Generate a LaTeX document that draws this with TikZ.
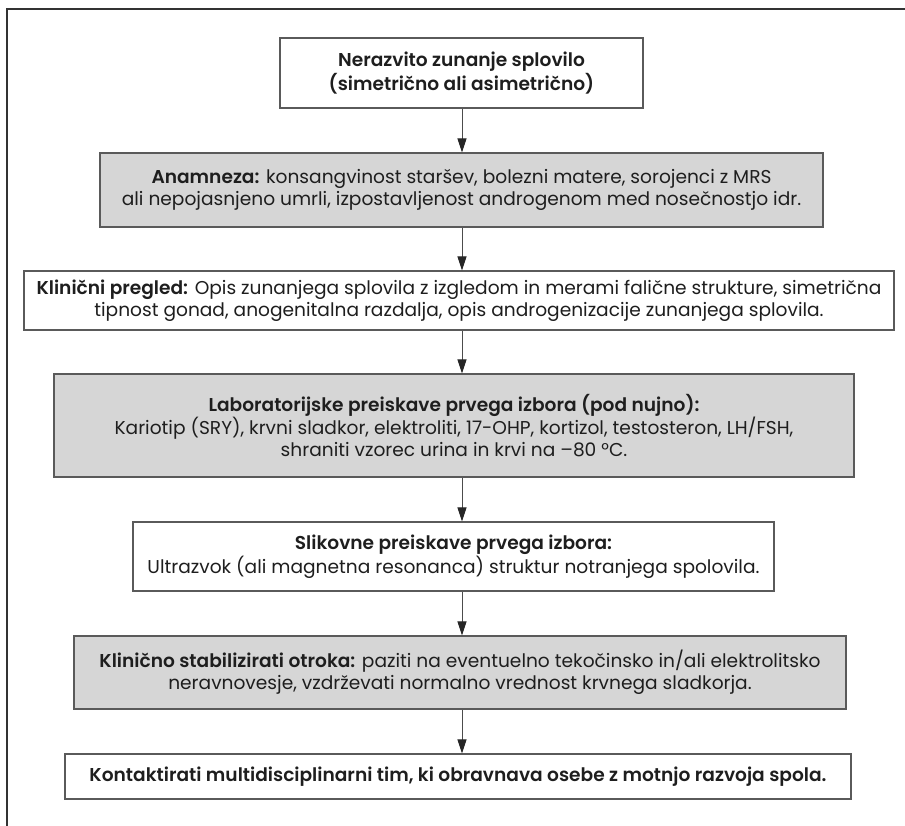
\documentclass[tikz,border=0pt]{standalone}
\usepackage{fontspec}
\setmainfont{Poppins}[BoldFont={Poppins SemiBold}]
\usetikzlibrary{arrows.meta,shadows}
\definecolor{boxgray}{HTML}{D6D6D6}
\definecolor{edge}{HTML}{5A5A5A}
\definecolor{ink}{HTML}{1E1E1E}
\tikzset{
  flowbox/.style={draw=edge, line width=1.1pt, inner sep=0pt, align=center, text=ink,
    font=\fontsize{18.6}{22}\selectfont,
    drop shadow={shadow xshift=1.3pt, shadow yshift=-1.3pt, fill=black!75, opacity=1}},
  whitebox/.style={flowbox, fill=white},
  graybox/.style={flowbox, fill=boxgray},
  arr/.style={draw=black!70, line width=0.8pt, -{Triangle[length=14pt,width=9pt,fill=black!85,color=black!85]}},
  frameline/.style={draw=black!80, line width=1.8pt}
}
\begin{document}
\begin{tikzpicture}[x=1pt,y=-1pt]
\useasboundingbox (0,0) rectangle (905,826);
\draw[frameline] (7,826) -- (7,9) -- (905,9);
\coordinate (ax) at (462,0);
\node[whitebox, minimum width=363pt, minimum height=70pt] (b1) at (461.5,73)
  {\bfseries Nerazvito zunanje splovilo\\\bfseries (simetrično ali asimetrično)};
\node[graybox, minimum width=723pt, minimum height=74pt] (b2) at (461.5,190)
  {\textbf{Anamneza:} konsangvinost staršev, bolezni matere, sorojenci z MRS\\ali nepojasnjeno umrli, izpostavljenost androgenom med nosečnostjo idr.};
\node[whitebox, minimum width=870pt, minimum height=59pt] (b3) at (459,300.5)
  {\textbf{Klinični pregled:} Opis zunanjega splovila z izgledom in merami falične strukture, simetrična\\tipnost gonad, anogenitalna razdalja, opis androgenizacije zunanjega splovila.};
\node[graybox, minimum width=800pt, minimum height=103pt] (b4) at (454,425.5)
  {\textbf{Laboratorijske preiskave prvega izbora (pod nujno):}\\Kariotip (SRY), krvni sladkor, elektroliti, 17-OHP, kortizol, testosteron, LH/FSH,\\shraniti vzorec urina in krvi na –80 °C.};
\node[whitebox, minimum width=641pt, minimum height=69pt] (b5) at (453.5,556.5)
  {\textbf{Slikovne preiskave prvega izbora:}\\Ultrazvok (ali magnetna resonanca) struktur notranjega spolovila.};
\node[graybox, minimum width=772pt, minimum height=73pt] (b6) at (460,672.5)
  {\textbf{Klinično stabilizirati otroka:} paziti na eventuelno tekočinsko in/ali elektrolitsko\\neravnovesje, vzdrževati normalno vrednost krvnega sladkorja.};
\node[whitebox, minimum width=786pt, minimum height=45pt] (b7) at (458,776.5)
  {\textbf{Kontaktirati multidisciplinarni tim, ki obravnava osebe z motnjo razvoja spola.}};
\foreach \a/\b in {b1/b2,b2/b3,b3/b4,b4/b5,b5/b6,b6/b7}
  \draw[arr] (\a.south -| ax) -- (\b.north -| ax);
\end{tikzpicture}
\end{document}
